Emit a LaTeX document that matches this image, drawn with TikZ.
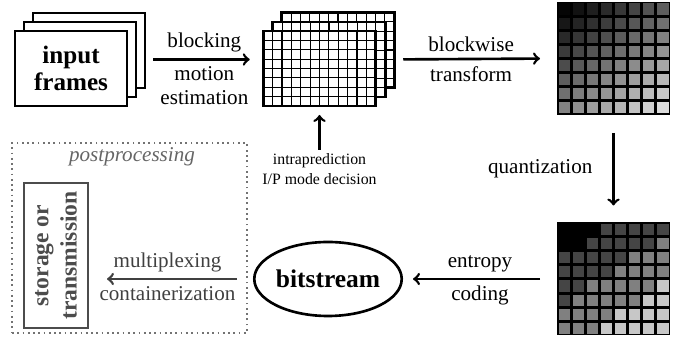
\documentclass[tikz,border=0pt]{standalone}
\usepackage{fontspec}
\setmainfont{Liberation Serif}
\usetikzlibrary{shapes.geometric}

\tikzset{
  lbl/.style={font=\fontsize{12}{13.6}\selectfont, align=center},
  bigbold/.style={font=\fontsize{14.3}{15.5}\selectfont\bfseries, align=center},
  flow/.style={->, line width=1.5pt},
  framebox/.style={draw, line width=1.6pt, fill=white, minimum width=2.24cm, minimum height=1.5cm, inner sep=0pt, outer sep=0pt},
  coeffs/.style={fill=black, minimum size=2.26cm, inner sep=0pt, outer sep=0pt},
}

\begin{document}
\begin{tikzpicture}
\useasboundingbox (0,0) rectangle (13.64,6.76);
% input frames
\node[framebox] (inback) at (1.78,5.75) {};
\node[framebox] (inmid) at (1.60,5.57) {};
\node[framebox, bigbold] (infront) at (1.42,5.39) {input\\frames};
% frames cut into blocks
\node[framebox, minimum width=2.25cm] (gridback) at (6.76,5.76) {};
\draw[line width=0.7pt, shift={(gridback.south west)}, step=0.1875] (0,0) grid (2.25,1.5);
\node[framebox, minimum width=2.25cm] (gridmid) at (6.58,5.57) {};
\draw[line width=0.7pt, shift={(gridmid.south west)}, step=0.1875] (0,0) grid (2.25,1.5);
\node[framebox, minimum width=2.25cm] (gridfront) at (6.39,5.39) {};
\draw[line width=0.7pt, shift={(gridfront.south west)}, step=0.1875] (0,0) grid (2.25,1.5);
\draw[flow, shorten <=0.34cm, shorten >=0.46cm] (inmid.east) -- node[lbl, above] {blocking} node[lbl, below] {motion\\estimation} (gridmid.west);
\node[font=\fontsize{9}{11.4}\selectfont, align=center, anchor=north, inner sep=2pt] (intra) at (6.39,3.76) {intraprediction\\I/P mode decision};
\draw[flow, shorten >=0.18cm] (intra.north) -- (gridfront.south);
% transform coefficients
\node[coeffs] (dct) at (12.27,5.59) {};
\foreach \i in {0,...,7}
  \foreach \j in {0,...,7} {
    \pgfmathtruncatemacro{\w}{2+5*\j+7*\i}
    \fill[white!\w!black, shift={(dct.north west)}] (\j*0.2825+0.03,-\i*0.2825-0.03) rectangle ++(0.2225,-0.2225);
  }
\draw[flow, shorten <=0.36cm, shorten >=0.34cm] (gridmid.east) -- node[lbl, above] {blockwise} node[lbl, below] {transform} (dct.west);
% quantized coefficients
\node[coeffs] (quant) at (12.27,1.18) {};
\foreach \row [count=\i from 0] in {{0,0,0,27,27,27,27,27},{0,0,27,27,27,27,27,50},{27,27,27,27,27,50,50,50},{27,27,27,27,50,50,50,50},{27,27,50,50,50,50,50,78},{27,50,50,50,50,50,78,78},{50,50,50,50,78,78,78,78},{50,50,50,78,78,78,78,78}}
  \foreach \w [count=\j from 0] in \row
    \fill[white!\w!black, shift={(quant.north west)}] (\j*0.2825+0.03,-\i*0.2825-0.03) rectangle ++(0.2225,-0.2225);
\draw[flow, shorten <=0.36cm, shorten >=0.34cm] (dct.south) -- node[lbl, left=0.28cm] {quantization} (quant.north);
% bitstream
\node[draw, ellipse, line width=1.5pt, minimum width=2.6cm, minimum height=1.48cm, inner sep=0pt, font=\fontsize{14.5}{16}\selectfont\bfseries] (bits) at (6.56,1.18) {bitstream};
\draw[flow, shorten <=0.34cm, shorten >=0.2cm] (quant.west) -- node[lbl, above] {entropy} node[lbl, below] {coding} (bits.east);
% postprocessing
\node[draw=black!55, dotted, line width=1pt, minimum width=4.7cm, minimum height=3.8cm, inner sep=0pt, outer sep=0pt] (post) at (2.59,2.00) {};
\node[font=\fontsize{12}{14}\selectfont\itshape, text=black!60] (posttitle) at (2.64,3.62) {postprocessing};
\node[draw=black!70, line width=1.2pt, minimum width=1.28cm, minimum height=2.9cm, inner sep=0pt, outer sep=0pt] (store) at (1.12,1.65) {};
\node[rotate=90, text=black!70, align=center, font=\fontsize{13.4}{16}\selectfont\bfseries] (storetext) at (store) {storage or\\transmission};
\draw[flow, color=black!75, shorten <=0.2cm, shorten >=0.38cm] (post.east |- bits.west) -- node[lbl, above] {multiplexing} node[lbl, below] {containerization} (store.east |- bits.west);
\end{tikzpicture}
\end{document}
